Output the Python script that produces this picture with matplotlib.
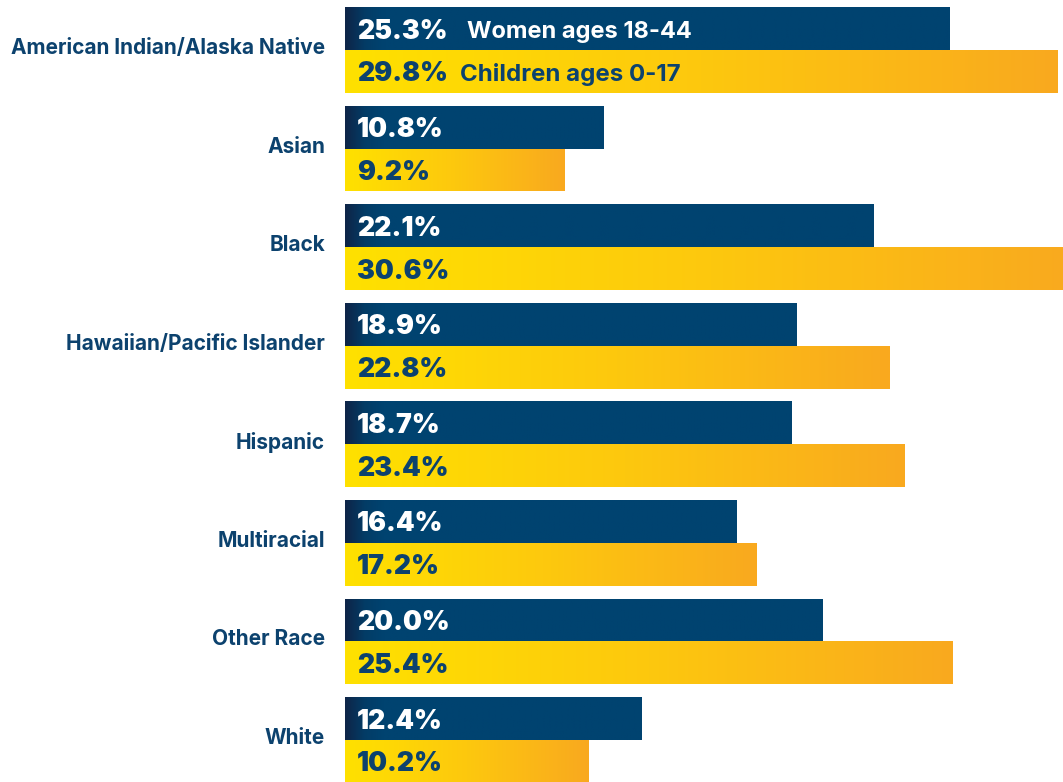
import numpy as np
import matplotlib
matplotlib.use('Agg')
import matplotlib.pyplot as plt
from matplotlib.colors import LinearSegmentedColormap

categories = ['American Indian/Alaska Native', 'Asian', 'Black',
              'Hawaiian/Pacific Islander', 'Hispanic', 'Multiracial',
              'Other Race', 'White']
women = [25.3, 10.8, 22.1, 18.9, 18.7, 16.4, 20.0, 12.4]
children = [29.8, 9.2, 30.6, 22.8, 23.4, 17.2, 25.4, 10.2]
series_names = ['Women ages 18-44', 'Children ages 0-17']

navy = '#004370'
text_navy = '#0c426e'
navy_cmap = LinearSegmentedColormap.from_list('navy', ['#0e2548', '#033c66', navy])
gold_cmap = LinearSegmentedColormap.from_list('gold', ['#ffe100', '#fdc80e', '#f9a91f'])

plt.rcParams['font.family'] = ['Inter', 'DejaVu Sans']

W, H, dpi = 1063, 782, 100
fig = plt.figure(figsize=(W / dpi, H / dpi), dpi=dpi)
ax = fig.add_axes([345 / W, 0, 718 / W, 1])

px_per_unit = 23.9
pitch = 98.57
h = 0.435
ax.set_xlim(0, 718 / px_per_unit)
ax.set_ylim((H - 50) / pitch, -50 / pitch)
ax.axis('off')

y = np.arange(len(categories))
b1 = ax.barh(y - h / 2, women, height=h, color=navy, linewidth=0)
b2 = ax.barh(y + h / 2, children, height=h, color='#fdc80e', linewidth=0)

ramp = np.linspace(0, 1, 256).reshape(1, -1)
for bar, v in zip(b1, women):
    x0, y0, w, hh = bar.get_x(), bar.get_y(), bar.get_width(), bar.get_height()
    # dark edge fades out over the first ~1.6 units
    xs = np.linspace(0, v, 256)
    vals = np.clip(xs / 1.6, 0, 1).reshape(1, -1)
    im = ax.imshow(vals, cmap=navy_cmap, vmin=0, vmax=1, aspect='auto',
                   extent=(x0, x0 + w, y0 + hh, y0), interpolation='bilinear', zorder=2)
    im.set_clip_path(bar)
for bar in b2:
    x0, y0, w, hh = bar.get_x(), bar.get_y(), bar.get_width(), bar.get_height()
    im = ax.imshow(ramp, cmap=gold_cmap, vmin=0, vmax=1, aspect='auto',
                   extent=(x0, x0 + w, y0 + hh, y0), interpolation='bilinear', zorder=2)
    im.set_clip_path(bar)

tx = 12 / px_per_unit
dy = 0.03
for i in range(len(categories)):
    ax.text(tx, y[i] - h / 2 + dy, f'{women[i]:.1f}%', color='white', fontsize=19.2,
            fontweight='black', va='center', ha='left', zorder=3)
    ax.text(tx, y[i] + h / 2 + dy, f'{children[i]:.1f}%', color=text_navy, fontsize=19.2,
            fontweight='black', va='center', ha='left', zorder=3)
    ax.text(-20 / px_per_unit, y[i] - 0.02, categories[i], color=text_navy, fontsize=15,
            fontweight='bold', va='center', ha='right', clip_on=False)

ax.text(122 / px_per_unit, -h / 2 + dy, series_names[0], color='white', fontsize=17,
        fontweight='bold', va='center', ha='left', zorder=3)
ax.text(115 / px_per_unit, h / 2 + dy, series_names[1], color=text_navy, fontsize=17.3,
        fontweight='bold', va='center', ha='left', zorder=3)

fig.savefig('out.png', dpi=dpi)
